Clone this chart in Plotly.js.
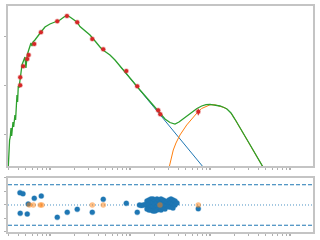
<!DOCTYPE html>
<html>
<head>
<meta charset="utf-8">
<script src="https://cdn.plot.ly/plotly-3.0.1.min.js"></script>
<style>html,body{margin:0;padding:0;background:#fff;}#chart{width:320px;height:240px;}</style>
</head>
<body>
<div id="chart"></div>
<script>
// Total model (green)
var totalWave = [0.0301,0.0303,0.0310,0.0313,0.0319,0.0326,0.0332,0.0338,0.0345,0.0352,0.0358,0.0365,0.0372,0.0379,0.0387,0.0394,0.0402,0.0410,0.0418,0.0425,0.0434,0.0447,0.0460,0.0473,0.0487,0.0501,0.0512,0.0520,0.0538,0.0562,0.0579,0.0596,0.0613,0.0649,0.0688,0.0729,0.0772,0.0866,0.1,0.1155,0.1334,0.1496,0.1631,0.1778,0.1939,0.2175,0.2371,0.2585,0.2901,0.3162,0.3447,0.3868,0.4217,0.4597,0.5158,0.5623,0.6494,0.7499,1.334,2.371,2.738,3.162,3.652,4.097,4.636,5.309,6.18,6.879,7.87,8.913,10,11.55,13.34,14.96,16.31,18.30,20.54,30.73,45.6,48.7];
var totalFlux = [0.199,0.291,0.468,0.752,0.867,1.330,0.909,1.153,1.767,1.394,2.138,2.464,1.944,2.842,6.37,4.57,9.77,8.88,12.98,15.70,18.1,26.5,30.5,33.6,38.7,22.96,36.9,42.5,51.4,68.4,75.2,65.2,78.9,86.7,100,115.3,126.8,160.8,185.4,203.8,224.3,258.5,277.5,258.5,235.0,203.8,164.6,146.2,126.8,109.9,93.1,71.7,62.2,53.9,47.9,42.5,33.6,25.2,8.08,2.710,2.038,1.726,1.607,1.767,2.067,2.524,2.98,3.355,3.777,4.018,4.096,4.0,3.777,3.519,3.277,2.710,2.010,0.652,0.212,0.177];
// Stellar component (blue)
var starWave = [0.7499,2.738,8.30];
var starFlux = [25.2,1.898,0.204];
// Dust component (orange)
var dustWave = [3.073,3.162,3.477,3.758,4.217,5.117,5.788,6.823,7.87,9.10,10,11.55,13.34,14.96,16.31,18.30,20.54,30.73,48.7];
var dustFlux = [0.199,0.241,0.468,0.652,0.954,1.534,1.991,2.672,3.355,3.814,4.0,4.0,3.777,3.519,3.277,2.710,2.010,0.652,0.177];
// Observed photometry (red)
var obsWave = [0.0425,0.0425,0.0463,0.0520,0.0542,0.0637,0.0772,0.1234,0.1631,0.2193,0.338,0.4635,0.8995,1.233,2.252,2.393,7.14];
var obsFlux = [10.1,14.8,24.9,35.2,42.5,71.7,125,211,271,201,91.0,55.7,19.9,9.63,3.10,2.55,2.88];
var obsErr = [0.5,0.7,1.2,1.7,2.1,3.5,6,10,13,10,4.5,2.7,1.0,0.5,0.2,0.15,0.45];
// Residuals (blue detections)
var resWave = [0.0422,0.0425,0.0460,0.0520,0.0535,0.0637,0.0779,0.1234,0.1644,0.2193,0.338,0.4635,0.8995,1.233,7.14,
  1.314,1.392,1.475,1.562,
  1.631,1.631,1.631,
  1.728,1.728,1.728,1.728,
  1.831,1.831,1.831,1.831,
  1.940,1.940,1.940,1.940,
  2.054,2.054,2.054,2.054,
  2.176,2.176,2.176,2.176,
  2.305,2.305,2.305,
  2.442,2.442,2.442,2.442,
  2.587,2.587,2.587,
  2.738,2.738,2.738,
  2.901,2.901,
  3.073,3.073,3.073,
  3.255,3.255,3.255,
  3.447,3.447,3.447,
  3.652,3.652,
  3.868];
var resVal = [1.82,-1.23,1.67,-1.33,0.15,0.99,1.33,-1.82,-1.08,-0.64,-1.08,0.84,0.25,-1.08,-0.55,
  0,-0.07,0,0.07,
  0.59,0,-0.59,
  0.74,0.15,-0.44,-0.74,
  0.89,0.30,-0.30,-0.74,
  0.89,0.30,-0.30,-0.89,
  0.74,0.15,-0.44,-0.89,
  0.89,0.30,-0.30,-0.74,
  0.74,0.15,-0.44,
  0.89,0.30,-0.30,-0.74,
  0.74,0.15,-0.44,
  0.59,0,-0.59,
  0.44,-0.15,
  0.74,0.15,-0.30,
  0.89,0.30,-0.30,
  0.74,0.15,-0.44,
  0.59,0,
  0.30];
// Residuals (orange upper limits)
var limWave = [0.0551,0.0618,0.0756,0.0794,0.338,0.4635,2.371,7.14];
var limVal = [0,0,0,0,0,0,0,0];
// Reference lines for residual panel
var resBand = [-3,3];
var resZero = 0;
// Ticks
var xMajor = [0.1,1,10,100];
var xMinorMult = [2,3,4,5,6,7,8,9];
var xMinorDecades = [0.01,0.1,1,10,100];
var yMajor = [1,10,100];
var resTicks = [-4,-2,0,2,4];

var xMinor = [];
xMinorDecades.forEach(function(d){ xMinorMult.forEach(function(m){ xMinor.push(m*d); }); });

var spine = '#c4c4c4';
var tickc = '#b0b0b0';
var blue = '#1f77b4', orange = '#ff7f0e', green = '#2ca02c', red = '#d62728';

var traces = [
  {x: starWave, y: starFlux, type:'scatter', mode:'lines', line:{color:blue, width:1}, xaxis:'x', yaxis:'y'},
  {x: dustWave, y: dustFlux, type:'scatter', mode:'lines', line:{color:orange, width:1}, xaxis:'x', yaxis:'y'},
  {x: totalWave, y: totalFlux, type:'scatter', mode:'lines', line:{color:green, width:1.3}, xaxis:'x', yaxis:'y'},
  {x: obsWave, y: obsFlux, type:'scatter', mode:'markers',
   marker:{color:red, size:4, line:{color:'rgba(214,39,40,0.3)', width:1.5}},
   error_y:{type:'data', array: obsErr, color:red, thickness:1, width:0}, xaxis:'x', yaxis:'y'},
  {x: resWave, y: resVal, type:'scatter', mode:'markers',
   marker:{color:blue, size:5, line:{color:'rgba(31,119,180,0.3)', width:1.2}}, xaxis:'x2', yaxis:'y2'},
  {x: limWave, y: limVal, type:'scatter', mode:'markers',
   marker:{color:'rgba(255,127,14,0.5)', size:5.5, line:{width:0}}, xaxis:'x2', yaxis:'y2'}
];

var xr = [Math.log10(0.0299), Math.log10(193.8)];
var common = {showline:true, linecolor:spine, linewidth:2, mirror:true, showgrid:false, zeroline:false, showticklabels:false};

var layout = {
  width:320, height:240,
  margin:{l:8, r:7, t:6, b:8, pad:0},
  paper_bgcolor:'#fff', plot_bgcolor:'#fff',
  showlegend:false, hovermode:false,
  xaxis: Object.assign({}, common, {type:'log', range:xr, anchor:'y', domain:[0,1],
    tickmode:'array', tickvals:xMajor, ticks:'outside', ticklen:2, tickwidth:2, tickcolor:tickc,
    minor:{tickmode:'array', tickvals:xMinor, ticks:'outside', ticklen:1.5, tickwidth:1, tickcolor:tickc}}),
  yaxis: Object.assign({}, common, {type:'log', range:[-0.660, 2.639], domain:[0.292,1], anchor:'x',
    tickmode:'array', tickvals:yMajor, ticks:'outside', ticklen:2, tickwidth:1, tickcolor:tickc}),
  xaxis2: Object.assign({}, common, {type:'log', range:xr, anchor:'y2', domain:[0,1],
    tickmode:'array', tickvals:xMajor, ticks:'outside', ticklen:2, tickwidth:2, tickcolor:tickc,
    minor:{tickmode:'array', tickvals:xMinor, ticks:'outside', ticklen:1.5, tickwidth:1, tickcolor:tickc}}),
  yaxis2: Object.assign({}, common, {range:[-4,4], domain:[0,0.239], anchor:'x2',
    tickmode:'array', tickvals:resTicks, ticks:'outside', ticklen:2, tickwidth:1, tickcolor:tickc}),
  shapes: [
    {type:'line', xref:'x2 domain', x0:0, x1:1, yref:'y2', y0:resBand[0], y1:resBand[0], line:{color:blue, width:1, dash:'4px,2px'}, layer:'below'},
    {type:'line', xref:'x2 domain', x0:0, x1:1, yref:'y2', y0:resBand[1], y1:resBand[1], line:{color:blue, width:1, dash:'4px,2px'}, layer:'below'},
    {type:'line', xref:'x2 domain', x0:0, x1:1, yref:'y2', y0:resZero, y1:resZero, line:{color:blue, width:1, dash:'1px,2px'}, layer:'below', opacity:0.8}
  ]
};

Plotly.newPlot('chart', traces, layout, {staticPlot:true, displayModeBar:false});
</script>
</body>
</html>
